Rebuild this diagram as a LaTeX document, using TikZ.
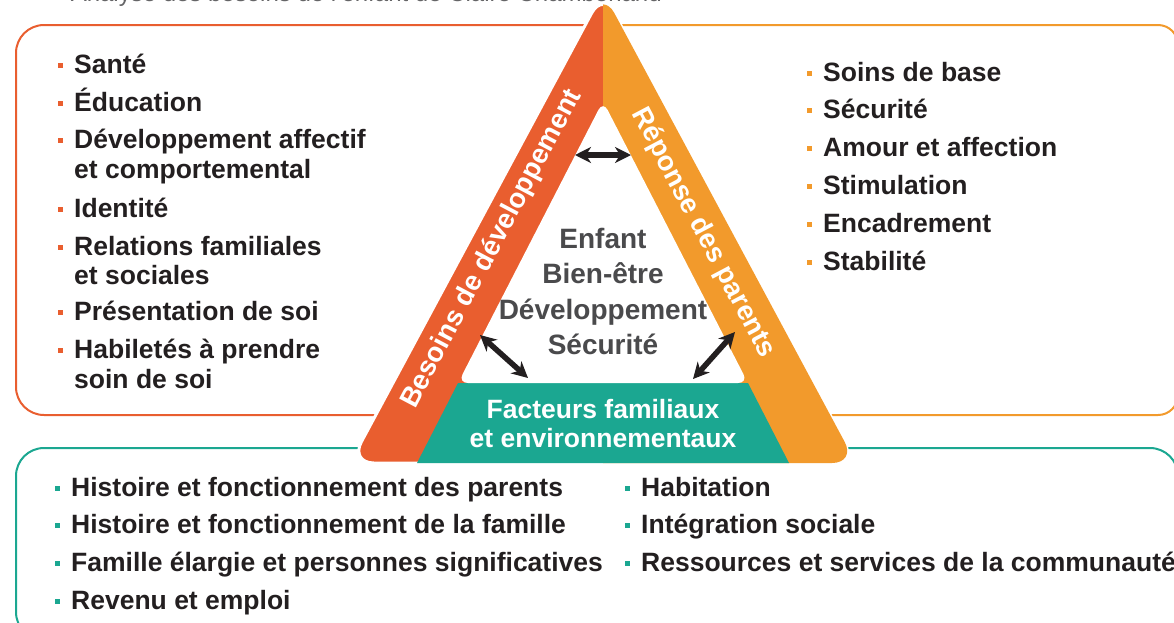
\documentclass[tikz,border=0pt]{standalone}
\usepackage{fontspec}
\setmainfont{Liberation Sans}
\usetikzlibrary{arrows.meta}
\definecolor{rouge}{HTML}{E95E2F}
\definecolor{orng}{HTML}{F29A2C}
\definecolor{vert}{HTML}{1BA791}
\definecolor{txt}{HTML}{231F20}
\definecolor{gris}{HTML}{4A4A4C}
\newcommand\bul[1]{\llap{\textcolor{#1}{\rule[0.19em]{0.19em}{0.19em}}\hspace{0.44em}}}
\begin{document}
\begin{tikzpicture}[x=1pt,y=-1pt,
  item/.style={anchor=base west, inner sep=0pt, text=txt, font=\bfseries\fontsize{26.5}{30}\selectfont},
  centre/.style={anchor=base, inner sep=0pt, text=gris, font=\bfseries\fontsize{28}{30}\selectfont},
  bandlabel/.style={inner sep=0pt, text=white, font=\bfseries\fontsize{27.5}{30}\selectfont},
  greenlabel/.style={anchor=base, inner sep=0pt, text=white, font=\bfseries\fontsize{26.5}{30}\selectfont},
  frame/.style={line width=2pt},
  dbl/.style={{Stealth[length=16pt,width=16pt,inset=5pt]}-{Stealth[length=16pt,width=16pt,inset=5pt]}, line width=5.5pt, draw=txt}
]
\useasboundingbox (0,0) rectangle (1174,622);

% cropped title
\node[anchor=base east, inner sep=0pt, text=gris!85, font=\fontsize{24}{24}\selectfont] (title) at (662,1) {Analyse des besoins de l'enfant de Claire Chamberland};

% frames
\draw[frame, rouge, rounded corners=28] (16,25) rectangle (620,415);
\draw[frame, orng, rounded corners=20] (590,25) rectangle (1178,415);
\draw[frame, vert, rounded corners=28] (16,448) rectangle (1178,640);

% triangle
\path[fill=rouge, draw=white, line width=3pt, rounded corners=24] (603,463) -- (856,463) -- (603,-8) -- (350,463) -- cycle;
\begin{scope}
  \clip (603,-30) rectangle (900,480);
  \fill[orng, rounded corners=24] (603,463) -- (856,463) -- (603,-8) -- (350,463) -- cycle;
\end{scope}
\fill[vert] (417,463) -- (458,383) -- (748,383) -- (789,463) -- cycle;
\fill[white, rounded corners=10] (603,101) -- (748,383) -- (458,383) -- cycle;

% band labels
\node[bandlabel, rotate=62.2] (besoins) at (492,249) {Besoins de développement};
\node[bandlabel, rotate=-62.2] (reponse) at (703,233) {Réponse des parents};
\node[greenlabel] (fact1) at (603,418) {Facteurs familiaux};
\node[greenlabel] (fact2) at (603,447) {et environnementaux};

% centre
\node[centre] (c1) at (603,248) {Enfant};
\node[centre] (c2) at (603,283) {Bien-être};
\node[centre] (c3) at (603,319) {Développement};
\node[centre] (c4) at (603,354) {Sécurité};

% arrows
\coordinate (t1) at (575,155); \coordinate (t2) at (631,155);
\coordinate (l1) at (480,335); \coordinate (l2) at (528,378);
\coordinate (r1) at (693,379); \coordinate (r2) at (735,332);
\draw[dbl] (t1) -- (t2);
\draw[dbl] (l1) -- (l2);
\draw[dbl] (r1) -- (r2);

% left list
\node[item] (a1) at (74,73) {\bul{rouge}Santé};
\node[item] (a2) at (74,111) {\bul{rouge}Éducation};
\node[item] (a3) at (74,148.5) {\bul{rouge}Développement affectif};
\node[item] (a3b) at (74,178) {et comportemental};
\node[item] (a4) at (74,217) {\bul{rouge}Identité};
\node[item] (a5) at (74,255) {\bul{rouge}Relations familiales};
\node[item] (a5b) at (74,284.5) {et sociales};
\node[item] (a6) at (74,320.5) {\bul{rouge}Présentation de soi};
\node[item] (a7) at (74,358.5) {\bul{rouge}Habiletés à prendre};
\node[item] (a7b) at (74,388) {soin de soi};

% right list
\node[item] (b1) at (823,81) {\bul{orng}Soins de base};
\node[item] (b2) at (823,118.5) {\bul{orng}Sécurité};
\node[item] (b3) at (823,156.5) {\bul{orng}Amour et affection};
\node[item] (b4) at (823,194.5) {\bul{orng}Stimulation};
\node[item] (b5) at (823,232) {\bul{orng}Encadrement};
\node[item] (b6) at (823,270) {\bul{orng}Stabilité};

% bottom list
\node[item] (d1) at (71,496) {\bul{vert}Histoire et fonctionnement des parents};
\node[item] (d2) at (71,533.5) {\bul{vert}Histoire et fonctionnement de la famille};
\node[item] (d3) at (71,571) {\bul{vert}Famille élargie et personnes significatives};
\node[item] (d4) at (71,609) {\bul{vert}Revenu et emploi};
\node[item] (e1) at (641,496) {\bul{vert}Habitation};
\node[item] (e2) at (641,533.5) {\bul{vert}Intégration sociale};
\node[item] (e3) at (641,571) {\bul{vert}Ressources et services de la communauté};
\end{tikzpicture}
\end{document}
